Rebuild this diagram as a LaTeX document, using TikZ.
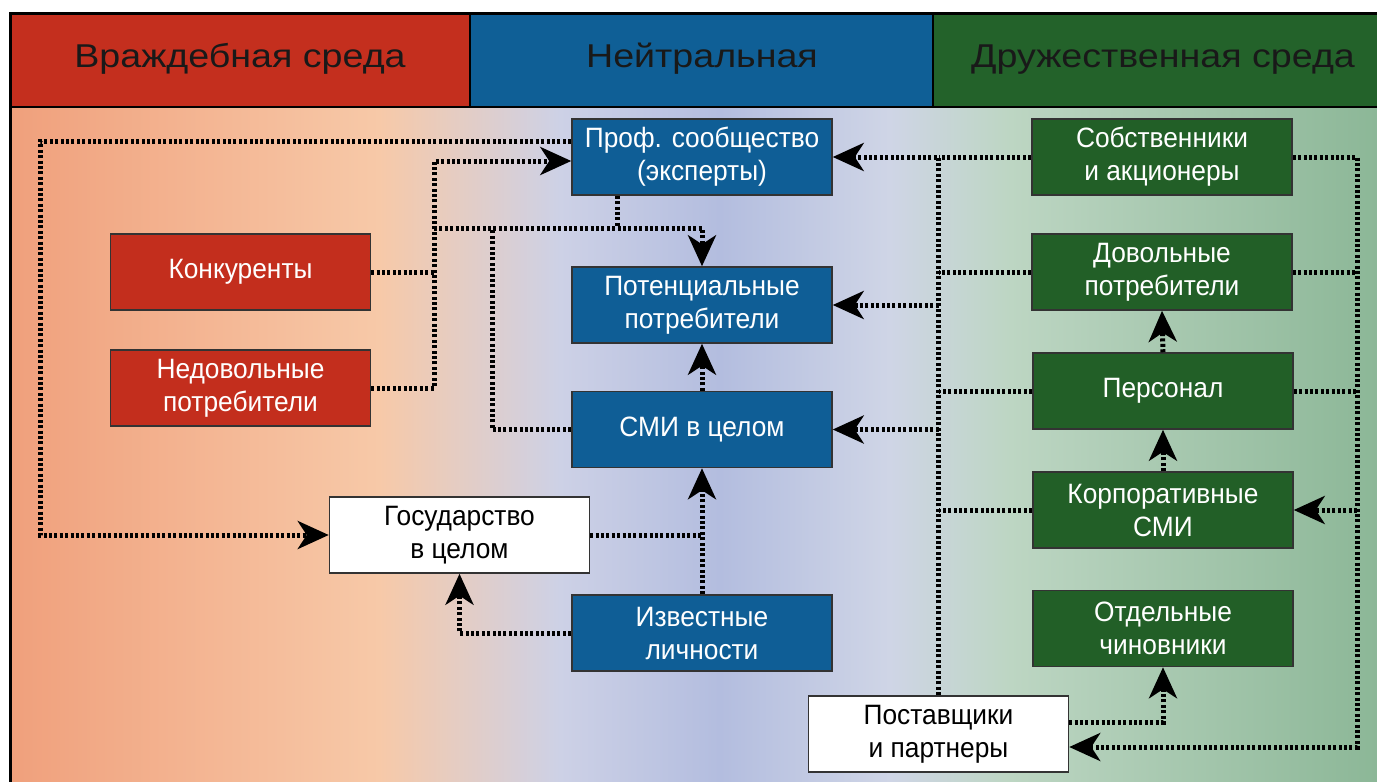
\documentclass[tikz,border=0pt]{standalone}
\usepackage{fontspec}
\setmainfont{Liberation Sans}
\newfontfamily\headfont[FakeStretch=1.14]{Liberation Sans}
\newfontfamily\boxfont[FakeStretch=0.94]{Liberation Sans}
\usetikzlibrary{arrows.meta,calc}
\definecolor{hred}{HTML}{C42F1E}
\definecolor{hblue}{HTML}{0F5F96}
\definecolor{hgreen}{HTML}{23622A}
\definecolor{bred}{HTML}{C32E1D}
\definecolor{bblue}{HTML}{0F5E96}
\definecolor{bgreen}{HTML}{225F27}
\definecolor{g1}{HTML}{F0A07C}
\definecolor{g2}{HTML}{F7C9A8}
\definecolor{g3}{HTML}{CDD1E6}
\definecolor{g4}{HTML}{B3BDDF}
\definecolor{g5}{HTML}{CFD5E6}
\definecolor{g6}{HTML}{BDD6C3}
\definecolor{g7}{HTML}{8CB797}
\tikzset{
  box/.style={draw=black!80, line width=1.5pt, minimum width=260pt, minimum height=76pt,
    align=center, inner sep=2pt, font=\boxfont\fontsize{28}{33}\selectfont},
  redbox/.style={box, fill=bred, text=white},
  bluebox/.style={box, fill=bblue, text=white},
  greenbox/.style={box, fill=bgreen, text=white},
  whitebox/.style={box, fill=white, text=black},
  headtext/.style={font=\headfont\fontsize{33}{36}\selectfont, text=black!90, anchor=base, inner sep=0pt},
  conn/.style={line width=5pt, dash pattern=on 3pt off 2.4pt, black},
  arr/.style={-{Stealth[length=31pt,width=28pt,inset=9pt]}},
}
\begin{document}
\begin{tikzpicture}[x=1pt,y=-1pt]
\useasboundingbox (0,0) rectangle (1377,782);
% body background gradient
\fill[left color=g1, right color=g2] (10,107) rectangle (380,782);
\fill[left color=g2, right color=g3] (379.5,107) rectangle (560,782);
\fill[left color=g3, right color=g4] (559.5,107) rectangle (720,782);
\fill[left color=g4, right color=g5] (719.5,107) rectangle (890,782);
\fill[left color=g5, right color=g6] (889.5,107) rectangle (1010,782);
\fill[left color=g6, right color=g7] (1009.5,107) rectangle (1377,782);
\draw[line width=3pt] (10,107) -- (10,782);
% header
\fill[hred] (10,13) rectangle (470,107);
\fill[hblue] (470,13) rectangle (933,107);
\fill[hgreen] (933,13) rectangle (1377,107);
\draw[line width=3pt] (10,107) -- (10,13) -- (1377,13);
\draw[line width=2pt] (10,107) -- (1377,107);
\draw[line width=2pt] (470,13) -- (470,107);
\draw[line width=2pt] (933,13) -- (933,107);
\node[headtext] (h1) at (240,67) {Враждебная среда};
\node[headtext] (h2) at (702,67) {Нейтральная};
\node[headtext] (h3) at (1163,67) {Дружественная среда};
% nodes
\node[bluebox] (prof) at (702,157) {Проф. сообщество\\(эксперты)};
\node[bluebox] (pot) at (702,305) {Потенциальные\\потребители};
\node[bluebox] (smi) at (702,429.5) {СМИ в целом};
\node[bluebox] (izv) at (702,633) {Известные\\личности};
\node[redbox] (konk) at (240.5,272) {Конкуренты};
\node[redbox] (nedov) at (240.5,388) {Недовольные\\потребители};
\node[whitebox] (gos) at (459.5,535) {Государство\\в целом};
\node[greenbox] (sob) at (1162,157) {Собственники\\и акционеры};
\node[greenbox] (dov) at (1162,272) {Довольные\\потребители};
\node[greenbox] (pers) at (1163,391) {Персонал};
\node[greenbox] (korp) at (1163,510) {Корпоративные\\СМИ};
\node[greenbox] (otd) at (1163,628.5) {Отдельные\\чиновники};
\node[whitebox] (post) at (938.5,734) {Поставщики\\и партнеры};
% junction coordinates
\coordinate (lv) at (434,228);
\coordinate (mv) at (492,228);
\coordinate (rv) at (1357,157);
% left connectors
\draw[conn,arr] ([yshift=16pt]prof.west) -| (40,535) -- (gos.west);
\draw[conn] (konk.east) -- (lv |- konk.east);
\draw[conn,arr] (nedov.east) -| (lv) |- ([yshift=-4pt]prof.west);
\draw[conn,arr] (lv) -| (pot.north);
\draw[conn] ([xshift=-85pt]prof.south) -- ([xshift=-85pt]prof.south |- lv);
\draw[conn] (smi.west) -| (mv);
\draw[conn,arr] (smi.north) -- (pot.south);
\draw[conn,arr] (izv.north) -- (smi.south);
\draw[conn] (gos.east) -- (izv.north |- gos.east);
\draw[conn,arr] (izv.west) -| (gos.south);
% right connectors
\draw[conn,arr] (post.north) |- (prof.east);
\draw[conn] (sob.west) -- (post.north |- sob.west);
\draw[conn,arr] (post.north |- pot.east) -- (pot.east);
\draw[conn,arr] (post.north |- smi.east) -- (smi.east);
\draw[conn] (dov.west) -- (post.north |- dov.west);
\draw[conn] (pers.west) -- (post.north |- pers.west);
\draw[conn] (korp.west) -- (post.north |- korp.west);
\draw[conn,arr] (sob.east) -- (rv) |- ([yshift=-13pt]post.east);
\draw[conn] (dov.east) -- (rv |- dov.east);
\draw[conn] (pers.east) -- (rv |- pers.east);
\draw[conn,arr] (rv |- korp.east) -- (korp.east);
\draw[conn,arr] (pers.north) -- (dov.south);
\draw[conn,arr] (korp.north) -- (pers.south);
\draw[conn,arr] ([yshift=12pt]post.east) -| (otd.south);
\end{tikzpicture}
\end{document}
